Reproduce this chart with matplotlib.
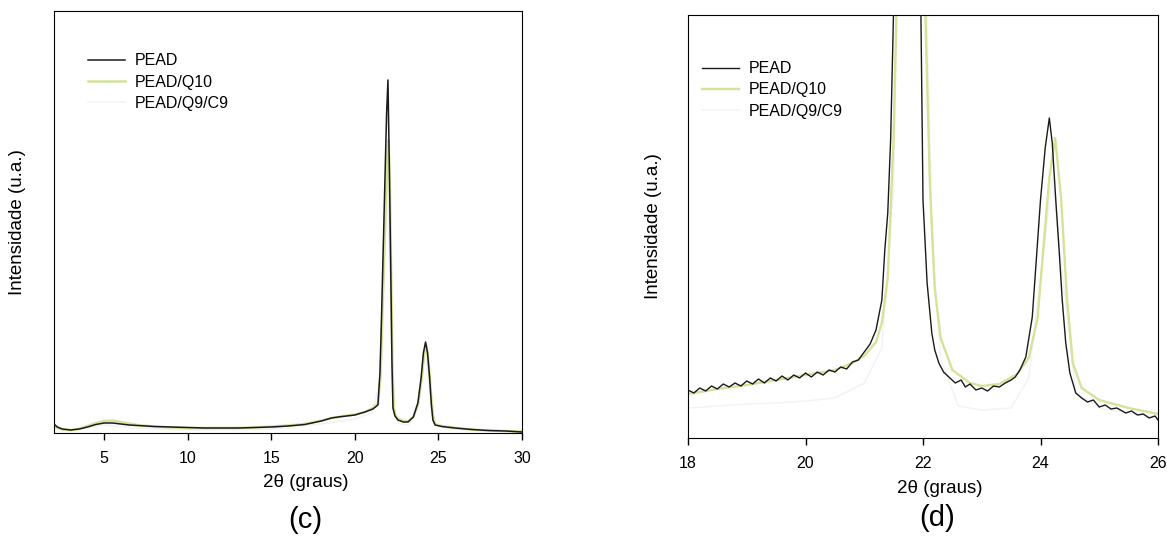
import matplotlib
matplotlib.use("Agg")
import matplotlib.pyplot as plt

plt.rcParams['font.family'] = ['Liberation Sans', 'DejaVu Sans']

labels = ['PEAD', 'PEAD/Q10', 'PEAD/Q9/C9']
colors = ['#1a1a1a', '#d3e39a', '#f3f3f3']

# panel (c): full scan 2-30 graus
c_x_pead = [2.0, 2.2, 2.5, 3.0, 3.5, 4.0, 4.5, 5.0, 5.5, 6.0, 6.5, 7.0, 8.0, 9.0, 10.0,
            11.0, 12.0, 13.0, 14.0, 15.0, 16.0, 17.0, 18.0, 18.6, 19.0, 19.5, 20.0, 20.6,
            21.08, 21.38, 21.5, 21.58, 21.78, 21.9, 21.98, 22.06, 22.14, 22.22, 22.28, 22.4,
            22.58, 22.9, 23.18, 23.5, 23.77, 23.97, 24.1, 24.23, 24.35, 24.47, 24.58, 24.67,
            24.8, 25.2, 26.0, 27.0, 28.0, 29.0, 30.0]
c_y_pead = [9, 6, 4, 3, 4, 6, 8.5, 10, 10, 9, 8, 7.5, 6.5, 6, 5.5,
            5, 5, 5, 5.5, 6, 7, 8.5, 12, 15, 16, 17, 18, 21,
            24, 28, 60, 106, 240, 320, 353, 270, 173, 70, 25, 17,
            13, 11, 11, 16, 30, 56, 80, 91, 80, 56, 28, 13,
            8, 6.5, 5, 3.5, 2.5, 2, 1]

c_x_q10 = [2.0, 2.2, 2.5, 3.0, 3.5, 4.0, 4.5, 5.0, 5.5, 6.0, 6.5, 7.0, 8.0, 9.0, 10.0,
           11.0, 12.0, 13.0, 14.0, 15.0, 16.0, 17.0, 18.0, 18.6, 19.0, 19.5, 20.0, 20.6,
           21.08, 21.4, 21.55, 21.65, 21.85, 21.95, 22.02, 22.1, 22.18, 22.26, 22.34, 22.45,
           22.6, 22.9, 23.2, 23.5, 23.8, 24.0, 24.15, 24.27, 24.38, 24.5, 24.62, 24.72,
           24.85, 25.2, 26.0, 27.0, 28.0, 29.0, 30.0]
c_y_q10 = [7, 5, 3.5, 3, 4, 7, 10, 12, 12.5, 11, 9.5, 8, 6.5, 5.5, 5,
           5, 5, 5, 5.5, 6.5, 7.5, 9, 12.5, 15, 16, 17.5, 18.5, 21,
           25, 30, 60, 120, 230, 280, 293, 240, 150, 60, 24, 17,
           14, 12, 12, 16, 30, 55, 80, 88, 76, 52, 26, 13,
           8.5, 7, 5, 3.5, 2.5, 2, 1.5]

c_x_q9c9 = [2.0, 3.0, 5.0, 7.0, 10.0, 15.0, 18.0, 20.0, 21.0, 21.5, 21.7, 21.95, 22.15,
            22.3, 22.6, 23.2, 23.8, 24.1, 24.25, 24.45, 24.7, 25.5, 30.0]
c_y_q9c9 = [5, 2, 8, 5, 3, 4, 9, 14, 20, 50, 140, 250, 130,
            20, 10, 8, 26, 70, 82, 45, 10, 4, 0.5]

# panel (d): zoom 18-26 graus
d_x_pead = [18.0, 18.1, 18.2, 18.3, 18.4, 18.5, 18.6, 18.7, 18.8, 18.9, 19.0, 19.1, 19.2,
            19.3, 19.4, 19.5, 19.6, 19.7, 19.8, 19.9, 20.0, 20.1, 20.2, 20.3, 20.4, 20.5,
            20.6, 20.7, 20.8, 20.9, 21.0, 21.1, 21.2, 21.3, 21.35, 21.4, 21.45, 21.5, 21.6,
            21.75, 21.9, 21.95, 22.0, 22.07, 22.15, 22.2, 22.27, 22.35, 22.44, 22.55, 22.65,
            22.72, 22.8, 22.9, 23.0, 23.1, 23.2, 23.3, 23.4, 23.5, 23.57, 23.65, 23.75,
            23.86, 23.92, 24.0, 24.08, 24.15, 24.2, 24.26, 24.32, 24.37, 24.43, 24.5, 24.6,
            24.7, 24.8, 24.9, 25.0, 25.1, 25.2, 25.3, 25.45, 25.55, 25.65, 25.75, 25.85,
            25.95, 26.0]
d_y_pead = [48, 45, 50, 47, 52, 49, 54, 51, 55, 52, 57, 54, 59,
            55, 60, 57, 62, 58, 63, 60, 65, 61, 66, 63, 68, 66,
            71, 69, 76, 78, 86, 94, 108, 138, 188, 225, 300, 430, 800,
            1200, 800, 500, 238, 155, 105, 88, 75, 66, 61, 55, 58,
            51, 54, 48, 50, 47, 52, 51, 55, 58, 61, 68, 81,
            121, 171, 238, 290, 320, 295, 238, 185, 138, 95, 65, 45,
            40, 36, 38, 31, 33, 29, 30, 25, 27, 23, 24, 20,
            22, 18]

d_x_q10 = [18.0, 18.5, 19.0, 19.5, 20.0, 20.5, 20.8, 21.0, 21.2, 21.3, 21.4, 21.5, 21.55,
           21.8, 22.05, 22.12, 22.2, 22.3, 22.5, 22.8, 23.0, 23.3, 23.6, 23.8, 23.95,
           24.05, 24.15, 24.25, 24.35, 24.45, 24.55, 24.7, 25.0, 25.5, 26.0]
d_y_q10 = [44, 49, 53, 58, 63, 68, 75, 82, 96, 115, 160, 300, 430,
           1100, 400, 250, 150, 100, 68, 55, 52, 54, 64, 80, 120,
           190, 260, 300, 240, 140, 75, 50, 38, 30, 24]

d_x_q9c9 = [18.0, 18.5, 19.0, 19.5, 20.0, 20.5, 21.0, 21.3, 21.5, 21.6, 22.0, 22.15, 22.3,
            22.6, 23.0, 23.5, 23.8, 24.0, 24.2, 24.4, 24.6, 25.0, 26.0]
d_y_q9c9 = [30, 32, 34, 35, 37, 40, 55, 90, 250, 600, 600, 200, 80,
            32, 28, 30, 60, 160, 260, 150, 45, 30, 20]

fig = plt.figure(figsize=(11.67, 5.37), dpi=100)
# pixel boxes: (c) x 54-522, y 11-433 ; (d) x 688-1158, y 15-438
ax_c = fig.add_axes([54 / 1167, 1 - 433 / 537, 468 / 1167, 422 / 537])
ax_d = fig.add_axes([688 / 1167, 1 - 438 / 537, 470 / 1167, 423 / 537])

series_c = [(c_x_pead, c_y_pead), (c_x_q10, c_y_q10), (c_x_q9c9, c_y_q9c9)]
series_d = [(d_x_pead, d_y_pead), (d_x_q10, d_y_q10), (d_x_q9c9, d_y_q9c9)]
widths = [1.1, 1.8, 1.2]

for i in [2, 1, 0]:  # black drawn on top
    ax_c.plot(*series_c[i], color=colors[i], lw=widths[i], label=labels[i], zorder=3 - i)
    ax_d.plot(*series_d[i], color=colors[i], lw=widths[i] - 0.1, label=labels[i], zorder=3 - i)

ax_c.set_xlim(2, 30)
ax_c.set_ylim(0, 422)
ax_c.set_xticks([5, 10, 15, 20, 25, 30])
ax_d.set_xlim(18, 26)
ax_d.set_ylim(0, 423)
ax_d.set_xticks([18, 20, 22, 24, 26])

for ax, pad in ((ax_c, 20), (ax_d, 19)):
    ax.set_yticks([])
    ax.tick_params(axis='x', direction='out', length=5, width=1, pad=8, labelsize=11.5)
    ax.set_xlabel('2\u03b8 (graus)', fontsize=13.5)
    ax.set_ylabel('Intensidade (u.a.)', fontsize=13.5, labelpad=pad)

ax_c.xaxis.set_label_coords(0.538, -0.097)
ax_d.xaxis.set_label_coords(0.536, -0.099)

leg_kw = dict(loc='upper left', frameon=False, fontsize=11.5, handlelength=2.3,
              handletextpad=0.63, labelspacing=0.4, borderpad=0, borderaxespad=0)
for ax, anchor in ((ax_c, (0.073, 0.900)), (ax_d, (0.030, 0.891))):
    h, l = ax.get_legend_handles_labels()
    ax.legend(h[::-1], l[::-1], bbox_to_anchor=anchor, **leg_kw)

fig.text(305 / 1167, 1 - 520 / 537, '(c)', ha='center', va='center', fontsize=21)
fig.text(937 / 1167, 1 - 518 / 537, '(d)', ha='center', va='center', fontsize=21)

fig.savefig('out.png', dpi=100)
